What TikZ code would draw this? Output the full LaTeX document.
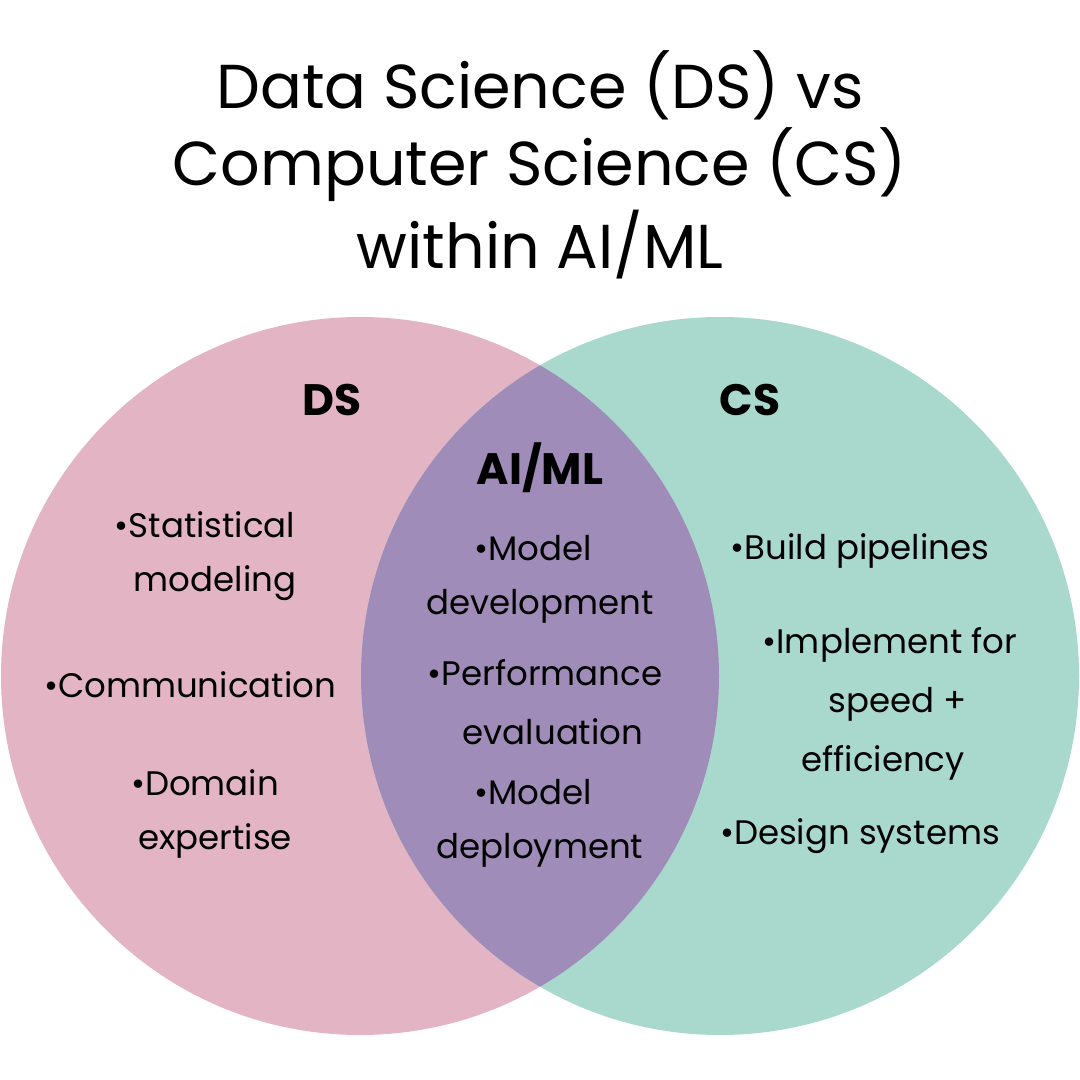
\documentclass[tikz,border=0pt]{standalone}
\usepackage{fontspec}
\setmainfont{Poppins}
\definecolor{pinkc}{HTML}{E2B4C4}
\definecolor{tealc}{HTML}{A8D9CC}
\definecolor{purpc}{HTML}{A08CB8}
\begin{document}
\begin{tikzpicture}[x=1pt,y=-1pt,
  ttl/.style={font=\fontsize{62}{70}\selectfont},
  hd/.style={font=\fontsize{44}{50}\selectfont\bfseries},
  tx/.style={font=\fontsize{34}{40}\selectfont}]
\useasboundingbox (0,0) rectangle (1080,1080);
\fill[white] (0,0) rectangle (1080,1080);
\fill[pinkc] (360,676) circle (359);
\fill[tealc] (720,676) circle (359);
\begin{scope}
\clip (360,676) circle (359);
\fill[purpc] (720,676) circle (359);
\end{scope}
\node[ttl] (t1) at (540,85) {Data Science (DS) vs};
\node[ttl] (t2) at (540,165) {Computer Science (CS)};
\node[ttl] (t3) at (540,245) {within AI/ML};
\node[hd] (ds) at (332,400) {DS};
\node[hd] (cs) at (750,400) {CS};
\node[hd] (ai) at (540,468) {AI/ML};
\node[tx] (a1) at (205,525) {•Statistical};
\node[tx] (a2) at (215,583) {modeling};
\node[tx] (a3) at (190,685) {•Communication};
\node[tx] (a4) at (205,783) {•Domain};
\node[tx] (a5) at (215,841) {expertise};
\node[tx] (m1) at (533,548) {•Model};
\node[tx] (m2) at (540,606) {development};
\node[tx] (m3) at (545,673) {•Performance};
\node[tx] (m4) at (553,732) {evaluation};
\node[tx] (m5) at (533,792) {•Model};
\node[tx] (m6) at (540,850) {deployment};
\node[tx] (c1) at (860,551) {•Build pipelines};
\node[tx] (c2) at (890,645) {•Implement for};
\node[tx] (c3) at (898,704) {speed +};
\node[tx] (c4) at (883,763) {efficiency};
\node[tx] (c5) at (860,836) {•Design systems};
\end{tikzpicture}
\end{document}
